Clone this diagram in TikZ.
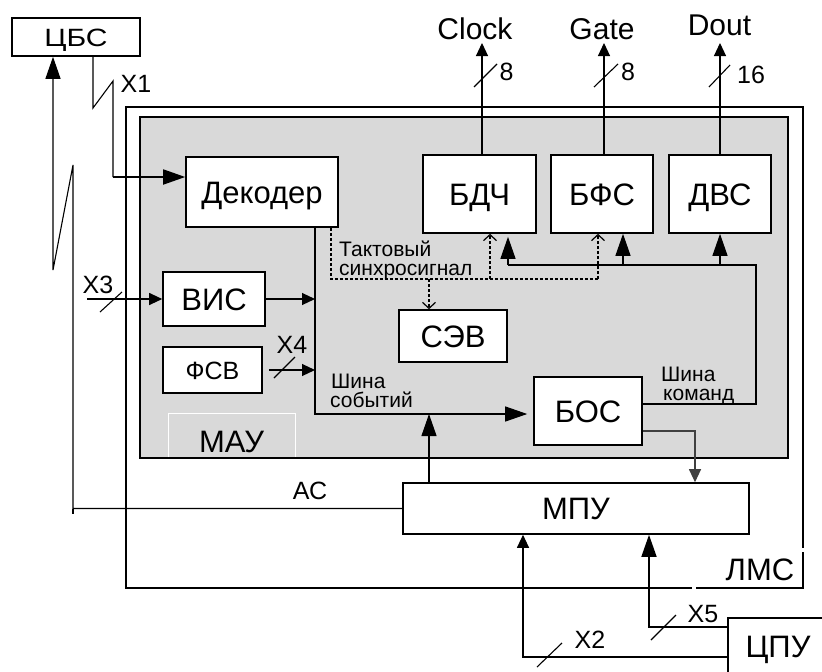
\documentclass[tikz,border=0pt]{standalone}
\usepackage{fontspec}
\usepackage{graphicx}
\setmainfont{Liberation Sans}
\usetikzlibrary{arrows.meta}
\definecolor{grayfill}{RGB}{217,217,217}
\begin{document}
\begin{tikzpicture}[x=1pt,y=-1pt,
  blk/.style={draw, line width=1.6pt, fill=white, inner sep=0pt,
    font=\fontsize{31}{31}\selectfont, text height=22pt, text depth=0pt},
  blks/.style={blk, font=\fontsize{25}{25}\selectfont, text height=18pt},
  frame/.style={draw, line width=1.6pt, inner sep=0pt},
  conn/.style={line width=1.1pt},
  bigarr/.style={-{Triangle[length=22pt,width=15pt]}},
  midarr/.style={-{Triangle[length=13pt,width=12pt]}},
  openarr/.style={-{Straight Barb[length=6pt,width=13pt,line width=1.2pt]}},
  dotl/.style={line width=2pt, dash pattern=on 3pt off 2pt},
  lbl/.style={font=\fontsize{25}{25}\selectfont, inner sep=0pt, anchor=base},
  biglbl/.style={font=\fontsize{30}{30}\selectfont, inner sep=0pt, anchor=base},
  mainlbl/.style={font=\fontsize{31}{31}\selectfont, inner sep=0pt, anchor=base},
  small/.style={font=\fontsize{21}{21}\selectfont, inner sep=0pt, anchor=base west},
  slash/.style={line width=1.1pt}
]
\useasboundingbox (0,0) rectangle (822,672);

% frames
\node[frame, minimum width=677pt, minimum height=481pt] (lms) at (464.5,347.5) {};
\node[frame, fill=grayfill, minimum width=648pt, minimum height=341pt] (gray) at (464,287.5) {};
\draw[white, line width=1pt] (168,457) -- (168,413) -- (295,413) -- (295,457);
\node[mainlbl] (maulbl) at (231.5,452) {МАУ};
\draw[white, line width=4pt] (694,550) rectangle (812,598);
\node[mainlbl] (lmslbl) at (760,580) {ЛМС};

% blocks
\node[blks, minimum width=128pt, minimum height=38pt] (cbs) at (76,37) {\scalebox{1.2}[1]{ЦБС}};
\node[blk, minimum width=152pt, minimum height=70pt] (dec) at (262,192) {Декодер};
\node[blk, minimum width=113pt, minimum height=78pt] (bdch) at (479.5,194) {БДЧ};
\node[blk, minimum width=102pt, minimum height=78pt] (bfs) at (602,194) {БФС};
\node[blk, minimum width=102pt, minimum height=78pt] (dvs) at (720,194) {ДВС};
\node[blk, minimum width=102pt, minimum height=54pt] (vis) at (214,299) {ВИС};
\node[blks, minimum width=99pt, minimum height=46pt] (fsv) at (212.5,370) {ФСВ};
\node[blk, minimum width=108pt, minimum height=52pt] (sev) at (453,336) {СЭВ};
\node[blk, minimum width=108pt, minimum height=68pt] (bos) at (588,411) {БОС};
\node[blk, minimum width=346pt, minimum height=51pt] (mpu) at (576,508.5) {МПУ};
\node[blk, minimum width=126pt, minimum height=80pt, anchor=north west] (cpu) at (727,617) {};
\node[mainlbl] (cpulbl) at (778,657) {ЦПУ};

% outputs
\coordinate (clk) at (482,43);
\coordinate (gat) at (604,43);
\coordinate (dou) at (720,43);
\draw[conn, midarr] (bdch.north -| clk) -- (clk);
\draw[conn, midarr] (bfs.north -| gat) -- (gat);
\draw[conn, midarr] (dvs.north -| dou) -- (dou);
\node[biglbl] (clklbl) at (475,39) {Clock};
\node[biglbl] (gatlbl) at (602,39) {Gate};
\node[biglbl] (doulbl) at (719.5,35) {Dout};
\draw[slash] (474,87) -- (497,64);
\draw[slash] (594,87) -- (618,64);
\draw[slash] (709,87) -- (730,65);
\node[lbl] at (506.5,80) {8};
\node[lbl] at (628,80) {8};
\node[lbl] at (751,83) {16};

% X1
\coordinate (x1a) at (93,0);
\coordinate (x1b) at (113,177);
\draw[conn] (cbs.south -| x1a) -- (93,108) -- (113,81) -- (x1b);
\draw[line width=1.8pt, bigarr] (x1b) -- (dec.west |- x1b);
\node[lbl] at (136,92) {X1};

% AC path to ЦБС
\coordinate (acx) at (53,0);
\draw[conn, bigarr] (mpu.west) -- (73,508.5) -- (73,165) -- (53,270) -- (cbs.south -| acx);
\draw[conn] (73,508.5) -- (73,514);
\node[lbl] at (310,499) {АС};

% event bus
\coordinate (busx) at (315,414);
\draw[conn, bigarr, shorten >=6pt] (dec.south -| busx) -- (busx) -- (bos.west |- busx);
\draw[conn, midarr] (vis.east) -- (vis.east -| busx);
\coordinate (x3s) at (87,0);
\draw[conn, midarr] (x3s |- vis.west) -- (vis.west);
\draw[slash] (100,312) -- (122,292);
\node[lbl] at (98,293) {X3};
\draw[conn, midarr] ([xshift=6pt]fsv.east) -- (fsv.east -| busx);
\draw[slash] (274,378) -- (295,357);
\node[lbl] at (292,353) {X4};
\coordinate (mpx) at (429,0);
\draw[conn, bigarr] (mpu.north -| mpx) -- (busx -| mpx);
\node[small] at (331,388) {Шина};
\node[small] at (330,407) {событий};

% БОС -> МПУ
\coordinate (bm) at (695,431);
\draw[conn, black!75, midarr] (bos.east |- bm) -- (bm) -- (mpu.north -| bm);

% command bus
\coordinate (cmd) at (756,404);
\coordinate (c1) at (508,265);
\coordinate (c2) at (623,265);
\coordinate (c3) at (720,265);
\coordinate (c4) at (756,265);
\draw[conn] (bos.east |- cmd) -- (cmd) -- (c4) -- (c1);
\draw[conn, bigarr, shorten >=3pt] (c1) -- (bdch.south -| c1);
\draw[conn, bigarr] (c2) -- (bfs.south -| c2);
\draw[conn, bigarr] (c3) -- (dvs.south -| c3);
\node[small] at (661,381) {Шина};
\node[small] at (663,400) {команд};

% clock sync (dotted)
\coordinate (t1) at (331,279);
\coordinate (t2) at (598,279);
\coordinate (t3) at (490,279);
\coordinate (t4) at (429,279);
\draw[dotl] (dec.south -| t1) -- (t1) -- (t2);
\draw[dotl, openarr] (t3) -- (bdch.south -| t3);
\draw[dotl, openarr] (t2) -- (bfs.south -| t2);
\draw[dotl, openarr] (t4) -- (sev.north -| t4);
\node[small] at (339,256) {Тактовый};
\node[small] at (339,275) {синхросигнал};

% X2, X5
\coordinate (x2) at (523,657);
\coordinate (x5) at (649,627);
\draw[conn, midarr] (cpu.west |- x2) -- (x2) -- (mpu.south -| x2);
\draw[slash] (537,667) -- (562,643);
\node[lbl] at (590,648) {X2};
\draw[line width=1.5pt, bigarr] (cpu.west |- x5) -- (x5) -- (mpu.south -| x5);
\draw[slash] (651,640) -- (676,615);
\node[lbl] at (703,622) {X5};
\end{tikzpicture}
\end{document}
